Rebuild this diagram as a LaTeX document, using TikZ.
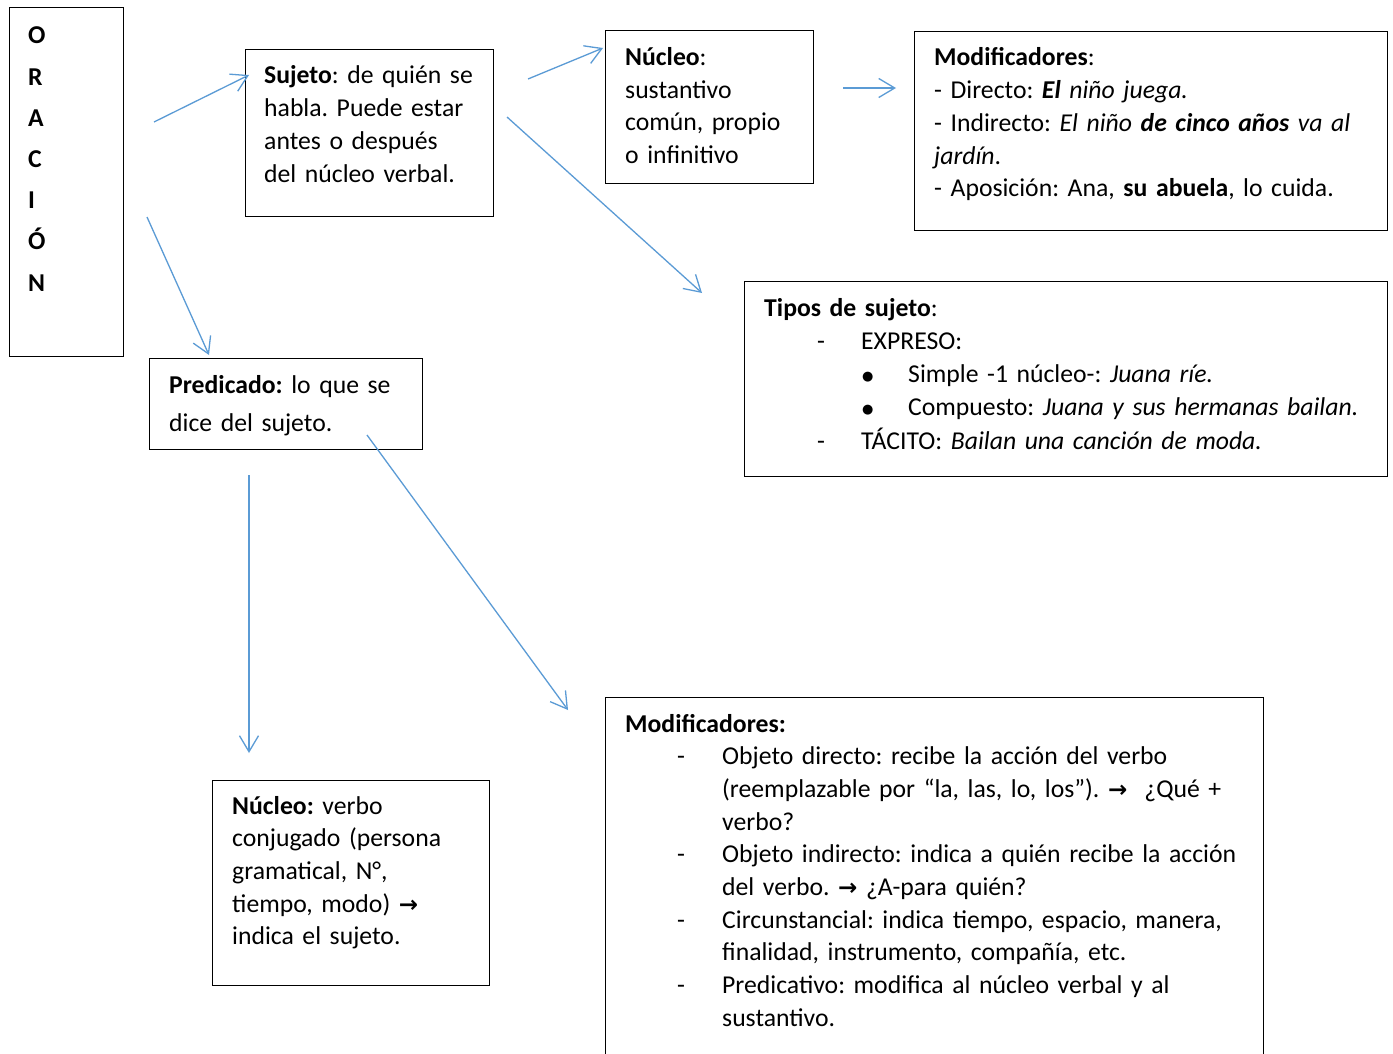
\documentclass[tikz,border=0pt]{standalone}
\usepackage{fontspec}
\setmainfont{Carlito}
\newfontfamily\symfont{DejaVu Sans}
\usetikzlibrary{arrows.meta}
\definecolor{arrowblue}{HTML}{5B9BD5}
\newcommand{\rarr}{{\symfont\bfseries\fontsize{23}{23}\selectfont →}}
\newcommand{\bul}{\raisebox{2.5pt}{\symfont\fontsize{13}{13}\selectfont ●}}
\frenchspacing
\begin{document}
\begin{tikzpicture}[x=1pt,y=-1pt]
\tikzset{
  frame/.style={draw=black, line width=1.2pt, anchor=north west, inner sep=0pt},
  txt/.style={anchor=base west, inner sep=0pt, text width=#1, align=left,
              font=\fontsize{25.7}{32.7}\selectfont},
  conn/.style={draw=arrowblue, line width=1.3pt, -{Straight Barb[length=16pt,width=19pt]}}
}
\useasboundingbox[fill=white] (0,0) rectangle (1393,1054);

% frames
\node[frame, minimum width=114, minimum height=349] (oracionbox) at (9,7) {};
\node[frame, minimum width=248, minimum height=167] (sujetobox) at (245,49) {};
\node[frame, minimum width=208, minimum height=153] (nucleobox) at (605,30) {};
\node[frame, minimum width=473, minimum height=199] (modifbox) at (914,31) {};
\node[frame, minimum width=643, minimum height=195] (tiposbox) at (744,281) {};
\node[frame, minimum width=273, minimum height=91] (predbox) at (149,358) {};
\node[frame, minimum width=277, minimum height=205] (nucverbox) at (212,780) {};
\node[frame, minimum width=658, minimum height=370] (modpredbox) at (605,697) {};

% texts
\node[txt=40pt, font=\bfseries\fontsize{25.7}{41.2}\selectfont] (oracion) at (28,44)
  {O\\R\\A\\C\\I\\Ó\\N};

\node[txt=260pt] (sujeto) at (264,84)
  {\textbf{Sujeto}: de quién se\\habla. Puede estar\\antes o después\\del núcleo verbal.};

\node[txt=220pt, font=\fontsize{25.7}{32.4}\selectfont] (nucleo) at (625,66)
  {\textbf{Núcleo}:\\sustantivo\\común, propio\\o infinitivo};

\node[txt=470pt] (modif) at (934,66)
  {\textbf{Modificadores}:\\
   - Directo: \textbf{\textit{El}} \textit{niño juega.}\\
   - Indirecto: \textit{El niño} \textbf{\textit{de cinco años}} \textit{va al}\\
   \textit{jardín}.\\
   - Aposición: Ana, \textbf{su abuela}, lo cuida.};

\node[txt=640pt, font=\fontsize{25.7}{33.3}\selectfont] (tipos) at (764,316)
  {\textbf{Tipos de sujeto}:\\
   \hspace*{53pt}\makebox[44pt][l]{-}EXPRESO:\\
   \hspace*{98pt}\makebox[46pt][l]{\bul}Simple -1 núcleo-: \textit{Juana ríe.}\\
   \hspace*{98pt}\makebox[46pt][l]{\bul}Compuesto: \textit{Juana y sus hermanas bailan.}\\
   \hspace*{53pt}\makebox[44pt][l]{-}TÁCITO: \textit{Bailan una canción de moda.}};

\node[txt=280pt, font=\fontsize{25.7}{38}\selectfont] (pred) at (169,393)
  {\textbf{Predicado:} lo que se\\dice del sujeto.};

\node[txt=280pt] (nucver) at (232,814)
  {\textbf{Núcleo:} verbo\\conjugado (persona\\gramatical, N°,\\tiempo, modo) \rarr\\indica el sujeto.};

\node[txt=660pt] (modpred) at (625,732)
  {\textbf{Modificadores:}\\
   \hspace*{52pt}\makebox[45pt][l]{-}Objeto directo: recibe la acción del verbo\\
   \hspace*{97pt}(reemplazable por “la, las, lo, los”). \rarr\ \ ¿Qué +\\
   \hspace*{97pt}verbo?\\
   \hspace*{52pt}\makebox[45pt][l]{-}Objeto indirecto: indica a quién recibe la acción\\
   \hspace*{97pt}del verbo. \rarr\ ¿A-para quién?\\
   \hspace*{52pt}\makebox[45pt][l]{-}Circunstancial: indica tiempo, espacio, manera,\\
   \hspace*{97pt}finalidad, instrumento, compañía, etc.\\
   \hspace*{52pt}\makebox[45pt][l]{-}Predicativo: modifica al núcleo verbal y al\\
   \hspace*{97pt}sustantivo.};

% connector end points
\coordinate (a1s) at (154,122);  \coordinate (a1e) at (249,75);
\coordinate (a2s) at (147,217);  \coordinate (a2e) at (209,355);
\coordinate (a3s) at (528,79);   \coordinate (a3e) at (603,48);
\coordinate (a4s) at (507,117);  \coordinate (a4e) at (702,293);
\coordinate (a5s) at (843,88);   \coordinate (a5e) at (896,88);
\coordinate (a6s) at (249,475);  \coordinate (a6e) at (249,753);
\coordinate (a7s) at (367,435);  \coordinate (a7e) at (568,710);

\draw[conn] (a1s) -- (a1e);
\draw[conn] (a2s) -- (a2e);
\draw[conn] (a3s) -- (a3e);
\draw[conn] (a4s) -- (a4e);
\draw[conn] (a5s) -- (a5e);
\draw[conn] (a6s) -- (a6e);
\draw[conn] (a7s) -- (a7e);
\end{tikzpicture}
\end{document}
